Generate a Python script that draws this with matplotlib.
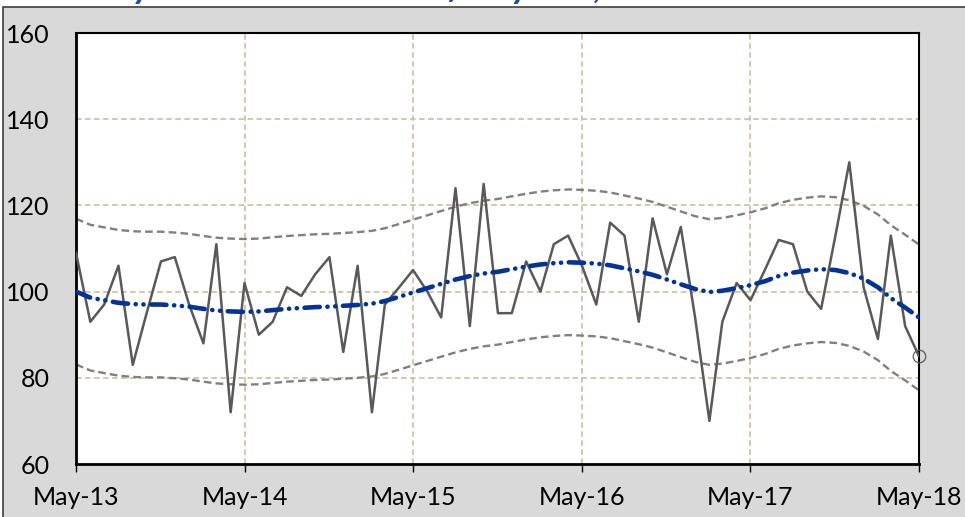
import numpy as np
import pandas as pd
import matplotlib
matplotlib.use("Agg")
import matplotlib.pyplot as plt
from matplotlib.patches import Rectangle

# monthly road deaths, May-13 .. May-18
months = pd.date_range("2013-05-01", "2018-05-01", freq="MS")
deaths = [109, 93, 97, 106, 83, 95, 107, 108, 97, 88,
          111, 72, 102, 90, 93, 101, 99, 104, 108, 86,
          106, 72, 97, 101, 105, 100, 94, 124, 92, 125,
          95, 95, 107, 100, 111, 113, 106, 97, 116, 113,
          93, 117, 104, 115, 94, 70, 93, 102, 98, 105,
          112, 111, 100, 96, 113, 130, 101, 89, 113, 92,
          85]
trend = [100.0, 98.6, 98.0, 97.4, 97.1, 97.0, 97.0, 96.8, 96.5, 96.0,
         95.6, 95.4, 95.3, 95.4, 95.7, 96.0, 96.2, 96.4, 96.5, 96.7,
         96.9, 97.2, 97.8, 98.8, 99.8, 100.8, 101.8, 102.8, 103.6, 104.2,
         104.6, 105.2, 105.8, 106.3, 106.6, 106.8, 106.7, 106.5, 106.1, 105.4,
         104.7, 103.9, 102.8, 101.7, 100.6, 99.9, 100.2, 100.8, 101.5, 102.4,
         103.6, 104.4, 104.9, 105.2, 105.0, 104.3, 103.0, 101.0, 98.5, 96.3,
         94.0]
upper = [116.9, 115.5, 114.9, 114.3, 114.0, 113.9, 113.9, 113.7, 113.4, 112.9,
         112.5, 112.3, 112.2, 112.3, 112.6, 112.9, 113.1, 113.3, 113.4, 113.6,
         113.8, 114.1, 114.7, 115.7, 116.7, 117.7, 118.7, 119.7, 120.5, 121.1,
         121.5, 122.1, 122.7, 123.2, 123.5, 123.7, 123.6, 123.4, 123.0, 122.3,
         121.6, 120.8, 119.7, 118.6, 117.5, 116.8, 117.1, 117.7, 118.4, 119.3,
         120.5, 121.3, 121.8, 122.1, 121.9, 121.2, 119.9, 117.9, 115.4, 113.2,
         110.9]
lower = [83.1, 81.7, 81.1, 80.5, 80.2, 80.1, 80.1, 79.9, 79.6, 79.1,
         78.7, 78.5, 78.4, 78.5, 78.8, 79.1, 79.3, 79.5, 79.6, 79.8,
         80.0, 80.3, 80.9, 81.9, 82.9, 83.9, 84.9, 85.9, 86.7, 87.3,
         87.7, 88.3, 88.9, 89.4, 89.7, 89.9, 89.8, 89.6, 89.2, 88.5,
         87.8, 87.0, 85.9, 84.8, 83.7, 83.0, 83.3, 83.9, 84.6, 85.5,
         86.7, 87.5, 88.0, 88.3, 88.1, 87.4, 86.1, 84.1, 81.6, 79.4,
         77.1]
year_ticks = pd.date_range("2013-05-01", "2018-05-01", freq="12MS")
year_labels = ["May-13", "May-14", "May-15", "May-16", "May-17", "May-18"]
y_ticks = [60, 80, 100, 120, 140, 160]

title = "Monthly road deaths in last five years, with trend and limits"

plt.rcParams['font.family'] = ['Lato', 'DejaVu Sans']
plt.rcParams['lines.scale_dashes'] = False

W, H = 965, 517
fig = plt.figure(figsize=(W / 100, H / 100), dpi=100, facecolor="white")

# grey chart area, its top edge sits just below the (cropped) title
fig.patches.append(Rectangle((3 / W, -0.05), 1.1, 1 - 7 / H + 0.05, transform=fig.transFigure,
                             facecolor="#D9D9D9", edgecolor="#3F3F3F", linewidth=1.2, zorder=-5))
fig.text(22 / W, 1 + 1.5 / H, title, color="#1F4E9A", fontsize=26, fontweight="bold",
         fontstyle="italic", va="baseline", ha="left")

ax = fig.add_axes([76 / W, 1 - 464 / H, (919 - 76) / W, (464 - 33) / H], zorder=2)
ax.set_facecolor("white")

grid_c = "#C9C09A"
for y in y_ticks[1:-1]:
    ax.axhline(y, color=grid_c, lw=1.2, dashes=(4, 2.5), zorder=1)
for d in year_ticks[1:-1]:
    ax.axvline(d, color=grid_c, lw=1.2, dashes=(4, 2.5), zorder=1)

ax.plot(months, upper, color="#808080", lw=1.7, dashes=(5.5, 3), zorder=2)
ax.plot(months, lower, color="#808080", lw=1.7, dashes=(5.5, 3), zorder=2)
ax.plot(months, deaths, color="#595959", lw=1.8, zorder=3)
ax.plot(months, trend, color="#003399", lw=3.3, dashes=(11, 5.5, 0.1, 5.5, 0.1, 5.5),
        dash_capstyle="round", zorder=4)
ax.plot(months[-1:], deaths[-1:], "o", ms=9, mfc="none", mec="#595959", mew=0.9,
        clip_on=False, zorder=5)

ax.set_xlim(months[0], months[-1])
ax.set_ylim(60, 160)
ax.set_yticks(y_ticks)
ax.set_xticks(year_ticks)
ax.set_xticklabels(year_labels)
ax.tick_params(axis="y", length=0, pad=19, labelsize=18)
ax.tick_params(axis="x", length=6, width=1, direction="out", pad=10, labelsize=18)

for side in ["left", "bottom"]:
    ax.spines[side].set_linewidth(2.0)
for side in ["top", "right"]:
    ax.spines[side].set_linewidth(1.5)
for s in ax.spines.values():
    s.set_color("black")

plt.savefig("out.png", dpi=100, facecolor=fig.get_facecolor())
